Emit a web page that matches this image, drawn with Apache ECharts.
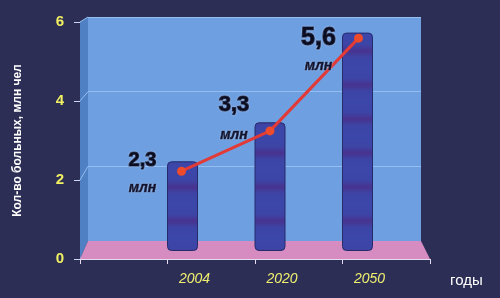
<!DOCTYPE html>
<html><head><meta charset="utf-8">
<script src="https://cdn.jsdelivr.net/npm/echarts@6/dist/echarts.min.js"></script>
<style>html,body{margin:0;padding:0;background:#2c2e55;}#c{width:500px;height:298px;}</style>
</head><body><div id="c"></div>
<script>
// ---- data ----
const years = ['2004', '2020', '2050'];
const patients = [2.3, 3.3, 5.6];
const unitLabel = 'млн';
const yAxisTitle = 'Кол-во больных, млн чел';
const xAxisTitle = 'годы';
const yMin = 0, yMax = 6, yStep = 2;

// ---- label styling (not data) ----
const labelOffsets = [[-39, 3], [-36, -11], [-40, 14]];
const labelSpacing = [28, 30, 29];
const labelSizes = [20, 22, 25];

const chart = echarts.init(document.getElementById('c'), null, {renderer: 'canvas'});

// stripe pattern for bars
const pc = document.createElement('canvas');
pc.width = 8; pc.height = 34;
const pctx = pc.getContext('2d');
const gr = pctx.createLinearGradient(0, 0, 0, 34);
gr.addColorStop(0, '#3b47a9');
gr.addColorStop(0.3, '#3c45a6');
gr.addColorStop(0.5, '#48328f');
gr.addColorStop(0.7, '#3c45a6');
gr.addColorStop(1, '#3b47a9');
pctx.fillStyle = gr; pctx.fillRect(0, 0, 8, 34);

const pts = patients.map((v, i) => [i + 1, v]);
const font = 'Liberation Sans';

function vAxis(extra) {
  return Object.assign({type: 'value', min: 0, max: years.length + 1, interval: 1, show: false}, extra || {});
}
function yAx(extra) {
  return Object.assign({type: 'value', min: yMin, max: yMax, interval: yStep, show: false}, extra || {});
}

const option = {
  backgroundColor: '#2c2e55',
  animation: false,
  grid: [
    {left: 80, right: 70, top: 22, bottom: 39},
    {left: 88, right: 79, top: 17, bottom: 57, show: true, backgroundColor: '#6e9fe1', borderWidth: 0},
    {left: 95, right: 55, top: 17, bottom: 47},
    {left: 93, right: 53, top: 22, bottom: 34}
  ],
  xAxis: [
    vAxis({gridIndex: 0, show: true,
      axisLine: {show: true, lineStyle: {color: '#e6dcef', width: 1}},
      axisTick: {show: true, length: 5, lineStyle: {color: '#e6dcef'}},
      splitLine: {show: false},
      name: xAxisTitle, nameLocation: 'end', nameGap: 20,
      nameTextStyle: {color: '#ffffff', fontSize: 15, fontFamily: font, verticalAlign: 'top', padding: [14, 0, 0, 0]},
      axisLabel: {show: true, margin: 13, color: '#f0f070', fontSize: 14, fontStyle: 'italic', fontFamily: font,
        padding: [0, 0, 0, 54],
        formatter: v => (v >= 1 && v <= years.length) ? years[v - 1] : ''}
    }),
    vAxis({gridIndex: 1}),
    vAxis({gridIndex: 2}),
    vAxis({gridIndex: 3})
  ],
  yAxis: [
    yAx({gridIndex: 0, show: true,
      axisLine: {show: true, lineStyle: {color: '#c8d8f2', width: 1}},
      axisTick: {show: true, length: 6, lineStyle: {color: '#c8d8f2'}},
      splitLine: {show: false},
      axisLabel: {margin: 16, color: '#f0f062', fontSize: 15, fontWeight: 'bold', fontFamily: font},
      name: yAxisTitle, nameLocation: 'middle', nameGap: 56,
      nameTextStyle: {color: '#ffffff', fontSize: 12, fontWeight: 'bold', fontFamily: font}
    }),
    yAx({gridIndex: 1, show: true,
      axisLine: {show: false}, axisTick: {show: false}, axisLabel: {show: false},
      splitLine: {show: true, lineStyle: {color: '#94bdf2', width: 1}}
    }),
    yAx({gridIndex: 2}),
    yAx({gridIndex: 3})
  ],
  series: [
    {
      type: 'bar', xAxisIndex: 2, yAxisIndex: 2, z: 3,
      data: pts, barWidth: 31,
      itemStyle: {color: {image: pc, repeat: 'repeat'}, borderColor: '#262b6c', borderWidth: 1, borderRadius: 4}
    },
    {
      type: 'line', xAxisIndex: 3, yAxisIndex: 3, z: 4,
      data: pts.map((p, i) => ({
        value: p,
        label: {
          show: true, position: 'inside', offset: labelOffsets[i],
          formatter: () => '{n|' + String(patients[i]).replace('.', ',') + '}\n{u|' + unitLabel + '}',
          rich: {
            n: {fontSize: labelSizes[i], fontWeight: 'bold', fontFamily: font, color: '#0a0d22',
                lineHeight: labelSpacing[i], textBorderColor: '#1a1d3a', textBorderWidth: 1.2,
                textShadowColor: 'rgba(255,255,255,0.35)', textShadowBlur: 2},
            u: {fontSize: 14, fontWeight: 'bold', fontStyle: 'italic', fontFamily: font, color: '#101430',
                lineHeight: labelSpacing[i], textBorderColor: '#202444', textBorderWidth: 0.6,
                textShadowColor: 'rgba(255,255,255,0.35)', textShadowBlur: 2}
          }
        }
      })),
      lineStyle: {color: '#e23a36', width: 3},
      symbol: 'circle', symbolSize: 9,
      itemStyle: {color: '#ee4a2c'}
    }
  ]
};
chart.setOption(option);

function P(g, x, y) { return chart.convertToPixel({gridIndex: g}, [x, y]); }
const xm = years.length + 1;
const graphics = [];
graphics.push({type: 'polygon', z: 1, silent: true,
  shape: {points: [P(0, 0, yMin), P(0, 0, yMax), P(1, 0, yMax), P(1, 0, yMin)]},
  style: {fill: '#4f80c3'}});
graphics.push({type: 'polygon', z: 1, silent: true,
  shape: {points: [P(0, 0, yMin), P(0, xm, yMin), P(1, xm, yMin), P(1, 0, yMin)]},
  style: {fill: '#d68cc0'}});
for (let v = yMin + yStep; v <= yMax; v += yStep) {
  const a = P(0, 0, v), b = P(1, 0, v);
  graphics.push({type: 'line', z: 1, silent: true,
    shape: {x1: a[0], y1: a[1], x2: b[0], y2: b[1]},
    style: {stroke: '#94bdf2', lineWidth: 1}});
}
chart.setOption({graphic: graphics});
</script>
</body></html>
